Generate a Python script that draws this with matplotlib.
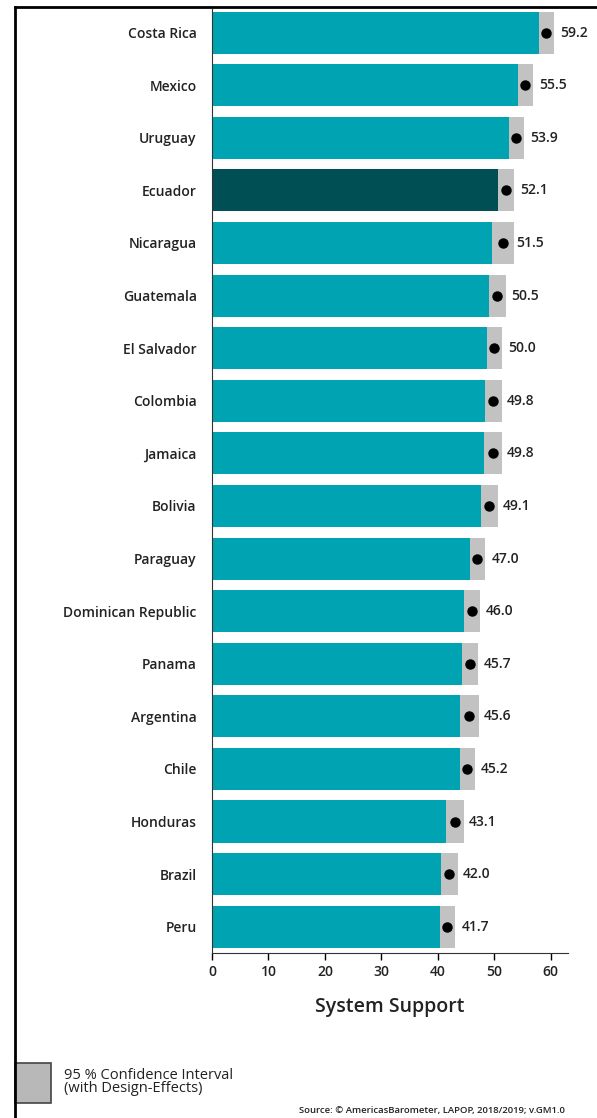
import numpy as np
import matplotlib.pyplot as plt
from matplotlib.patches import Rectangle
from matplotlib.lines import Line2D

plt.rcParams['font.family'] = ['Open Sans', 'DejaVu Sans']

countries = ['Costa Rica', 'Mexico', 'Uruguay', 'Ecuador', 'Nicaragua', 'Guatemala',
             'El Salvador', 'Colombia', 'Jamaica', 'Bolivia', 'Paraguay',
             'Dominican Republic', 'Panama', 'Argentina', 'Chile', 'Honduras',
             'Brazil', 'Peru']
support = [59.2, 55.5, 53.9, 52.1, 51.5, 50.5, 50.0, 49.8, 49.8, 49.1, 47.0,
           46.0, 45.7, 45.6, 45.2, 43.1, 42.0, 41.7]
ci_half = [1.3, 1.3, 1.3, 1.4, 2.0, 1.5, 1.3, 1.5, 1.6, 1.5, 1.3,
           1.4, 1.4, 1.6, 1.3, 1.6, 1.5, 1.3]
highlight = 'Ecuador'

teal = '#00A3B1'
dark = '#004F55'
grey = '#C2C2C2'
txt = '#222222'

fig = plt.figure(figsize=(5.97, 11.18), dpi=100)
ax = fig.add_axes([0.355, 0.1476, 0.596, 0.8444])

y = np.arange(len(countries))
lo = np.array(support) - np.array(ci_half)
hi = np.array(support) + np.array(ci_half)
cols = [dark if c == highlight else teal for c in countries]

ax.barh(y, hi, height=0.8, color=grey, zorder=1)
ax.barh(y, lo, height=0.8, color=cols, zorder=2)
ax.plot(support, y, 'o', color='black', markersize=6.5, zorder=3)
for yi, v in zip(y, support):
    ax.annotate(f'{v:.1f}', (v, yi), xytext=(10, 0), textcoords='offset points',
                va='center', ha='left', fontsize=10, color=txt, fontweight='semibold')

ax.set_ylim(17.5, -0.45)
ax.set_xlim(0, 63)
ax.set_yticks(y)
ax.set_yticklabels(countries, fontsize=10, color=txt, fontweight='semibold')
ax.set_xticks(np.arange(0, 61, 10))
ax.tick_params(axis='x', labelsize=10, labelcolor=txt, length=5, width=1, direction='out')
for lbl in ax.get_xticklabels():
    lbl.set_fontweight('semibold')
ax.tick_params(axis='y', length=0, pad=11)
ax.spines['top'].set_visible(False)
ax.spines['right'].set_visible(False)
ax.spines['left'].set_color('#333333')
ax.spines['bottom'].set_color('#333333')
ax.set_xlabel('System Support', fontsize=14, color=txt, labelpad=13, fontweight='semibold')

# legend
fig.patches.append(Rectangle((15 / 597, 1 - 1103 / 1118), 36 / 597, 40 / 1118,
                             transform=fig.transFigure, facecolor='#B8B8B8',
                             edgecolor='#444444', linewidth=1.2))
fig.text(64 / 597, 1 - 1082 / 1118, '95 % Confidence Interval\n(with Design-Effects)',
         fontsize=10.5, color=txt, va='center', ha='left', linespacing=0.85)
fig.text(565 / 597, 1 - 1111 / 1118, 'Source: © AmericasBarometer, LAPOP, 2018/2019; v.GM1.0',
         fontsize=6.8, color=txt, va='center', ha='right', fontweight='semibold')

# frame
fig.lines.append(Line2D([15 / 597, 15 / 597], [0, 1 - 7 / 1118], transform=fig.transFigure,
                        color='black', linewidth=2))
fig.lines.append(Line2D([15 / 597, 1], [1 - 7 / 1118, 1 - 7 / 1118], transform=fig.transFigure,
                        color='black', linewidth=2))

fig.savefig('out.png', dpi=100)
